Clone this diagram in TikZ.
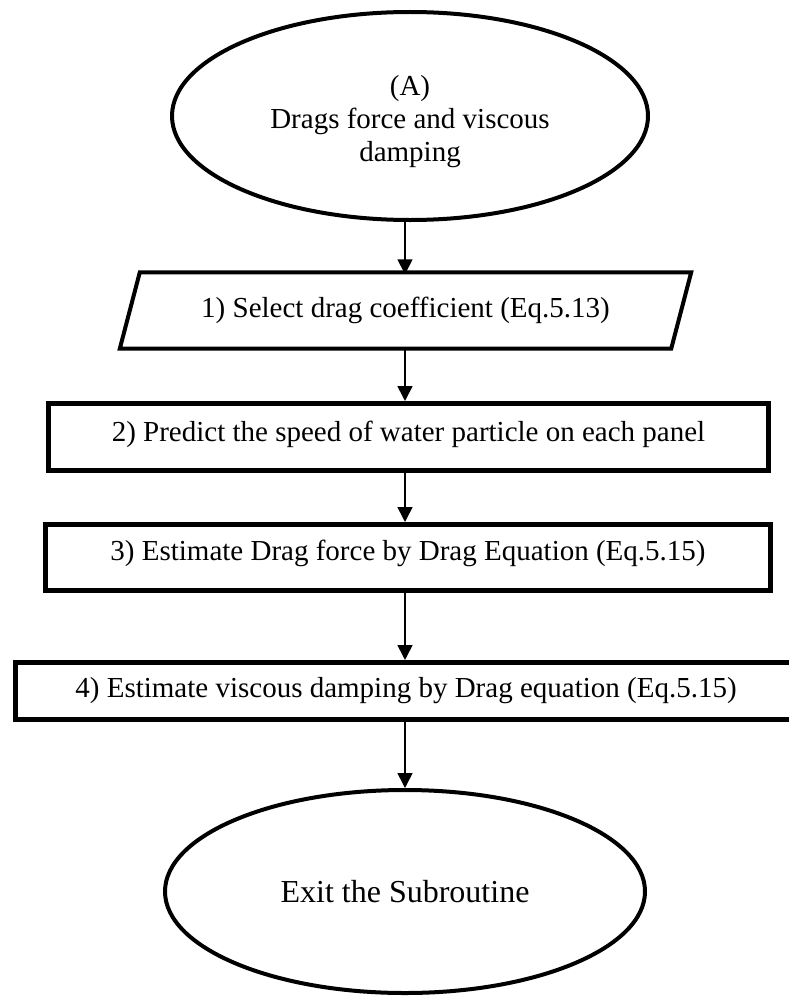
\documentclass[tikz,border=0pt]{standalone}
\usepackage{fontspec}
\setmainfont{Liberation Serif}
\usetikzlibrary{shapes.geometric,arrows.meta}
\begin{document}
\begin{tikzpicture}[x=1pt,y=-1pt,
  every node/.style={font=\fontsize{29}{33}\selectfont, inner sep=0pt},
  oval/.style={ellipse, draw, line width=4pt},
  procbox/.style={rectangle, draw, line width=5pt},
  arr/.style={line width=1.6pt, -{Triangle[length=15pt,width=15pt]}}]
\useasboundingbox (0,0) rectangle (788,998);
\fill[white] (0,0) rectangle (788,998);
\coordinate (ax) at (405,0);
% start ellipse
\node[oval, minimum width=476pt, minimum height=208pt, align=center, text height=97pt] (e1) at (410,116)
  {(A)\\Drags force and viscous\\damping};
% parallelogram (drawn through the node's corners)
\node[minimum width=551pt, minimum height=76pt] (p1) at (405.5,310.5)
  {1) Select drag coefficient (Eq.5.13)};
\draw[line width=4pt, line join=miter]
  ([xshift=-10pt]p1.south west) -- ([xshift=10pt]p1.north west) --
  ([xshift=10pt]p1.north east) -- ([xshift=-10pt]p1.south east) -- cycle;
% process boxes
\node[procbox, minimum width=720pt, minimum height=67pt, text depth=11.5pt] (b2) at (408.5,437)
  {2) Predict the speed of water particle on each panel};
\node[procbox, minimum width=725pt, minimum height=66pt, text depth=14pt] (b3) at (408,557.5)
  {3) Estimate Drag force by Drag Equation (Eq.5.15)};
\node[procbox, minimum width=781pt, minimum height=57pt] (b4) at (406,691)
  {4) Estimate viscous damping by Drag equation (Eq.5.15)};
% exit ellipse
\node[oval, minimum width=480pt, minimum height=203pt, font=\fontsize{32}{38}\selectfont] (e2) at (405,891.5)
  {Exit the Subroutine};
% connectors
\draw[arr] (e1.south -| ax) -- ([yshift=-2pt]p1.north -| ax);
\draw[arr] ([yshift=2pt]p1.south -| ax) -- (b2.north -| ax);
\draw[arr] (b2.south -| ax) -- (b3.north -| ax);
\draw[arr] (b3.south -| ax) -- (b4.north -| ax);
\draw[arr] (b4.south -| ax) -- (e2.north -| ax);
\end{tikzpicture}
\end{document}
